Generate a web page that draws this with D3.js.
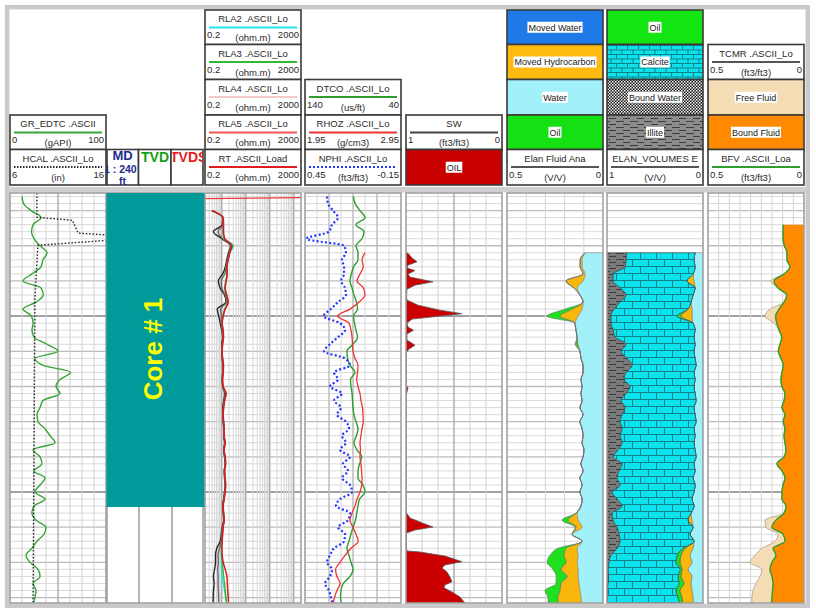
<!DOCTYPE html>
<html lang="en">
<head>
<meta charset="utf-8">
<title>Well log</title>
<script src="https://cdn.jsdelivr.net/npm/d3@7/dist/d3.min.js"></script>
<style>
  body { margin: 0; background: #fff; }
  svg text { font-family: "Liberation Sans", Arial, sans-serif; }
</style>
</head>
<body>
<svg id="log" width="816" height="614"></svg>
<script>
// ---- data (depth in ft) ----
var depth = [2432, 2436, 2440, 2444, 2448, 2452, 2456, 2460, 2464, 2468, 2472, 2476, 2480, 2484, 2488, 2492,
  2496, 2500, 2504, 2508, 2512, 2516, 2520, 2524, 2528, 2532, 2536, 2540, 2544, 2548, 2552, 2556, 2560,
  2564, 2568, 2572, 2576, 2580, 2584, 2588, 2592, 2596, 2600, 2604, 2608, 2612, 2616, 2620, 2624, 2628,
  2632, 2636, 2640, 2644, 2648, 2652, 2656, 2660, 2664];

var gr = [12.5, 14.1, 21.9, 32.3, 24.0, 22.4, 25.0, 31.3, 38.5, 34.4, 32.3, 22.9, 13.5, 32.3, 34.7, 27.1,
  13.5, 22.4, 24.0, 22.9, 25.0, 38.5, 50.0, 26.0, 34.4, 63.0, 52.1, 47.9, 52.1, 34.4, 31.3, 28.1, 29.2,
  36.5, 41.7, 46.9, 24.0, 31.3, 33.3, 25.0, 36.5, 31.3, 26.0, 36.5, 25.0, 22.9, 27.1, 37.5, 35.4, 28.1,
  22.9, 16.7, 20.8, 29.2, 31.3, 24.0, 27.1, 26.0, 24.0];

var hcalDepth = [2430, 2443.8, 2445.5, 2452.8, 2454.0, 2456.8, 2459.7, 2490, 2576, 2663.1];
var hcal = [8.8, 8.8, 12.5, 13.1, 16.5, 16.5, 8.9, 8.6, 8.5, 8.4];

var rtTopDepth = [2433.2, 2432.6];
var rtTop = [0.2, 2000];

var rla2 = [null, null, 0.39, 1.12, 1.15, 1.1, 1.35, 3.0, 2.2, 1.8, 1.6, 1.6, 1.45, 1.3, 1.55, 1.75, 1.3, 1.1,
  1.0, 1.1, 1.15, 1.05, 1.0, 1.05, 1.15, 1.1, 1.05, 1.1, 1.45, 1.28, 1.15, 1.1, 1.15, 1.2, 1.22, 1.33, 1.22,
  1.33, 1.4, 1.28, 1.33, 1.4, 1.33, 1.2, 1.1, 1.15, 1.2, 1.1, 1.04, 0.98, 0.95, 0.95, 0.98, 1.0, 1.01, 1.15,
  1.3, 1.45, 1.6];
var rla3 = [null, null, 0.39, 1.14, 1.17, 1.15, 1.3, 2.8, 2.1, 1.8, 1.62, 1.65, 1.5, 1.35, 1.58, 1.8, 1.35,
  1.12, 1.02, 1.12, 1.16, 1.07, 1.02, 1.07, 1.16, 1.12, 1.07, 1.12, 1.5, 1.3, 1.18, 1.12, 1.18, 1.24, 1.24,
  1.36, 1.24, 1.36, 1.43, 1.3, 1.36, 1.43, 1.36, 1.24, 1.12, 1.18, 1.24, 1.12, 1.06, 1.0, 0.98, 1.0, 1.05,
  1.12, 1.2, 1.3, 1.4, 1.5, 1.6];
var rla4 = [null, null, 0.39, 1.09, 1.04, 0.45, 1.0, 2.3, 1.9, 1.6, 1.4, 1.1, 0.72, 0.85, 1.3, 1.5, 0.65,
  0.75, 0.86, 1.0, 1.1, 1.0, 1.0, 1.04, 1.1, 1.09, 1.04, 1.09, 1.3, 1.2, 1.1, 1.09, 1.15, 1.2, 1.2, 1.3, 1.2,
  1.3, 1.39, 1.26, 1.3, 1.39, 1.3, 1.2, 1.1, 1.15, 1.2, 1.04, 0.95, 0.86, 0.62, 0.55, 0.55, 0.5, 0.45, 0.48,
  0.45, 0.44, 0.43];
var rla5 = [null, null, 0.39, 1.1, 1.1, 0.7, 1.1, 2.4, 2.0, 1.7, 1.5, 1.35, 0.95, 1.0, 1.4, 1.6, 0.9, 0.95,
  0.95, 1.05, 1.12, 1.03, 1.0, 1.05, 1.12, 1.1, 1.05, 1.1, 1.4, 1.25, 1.15, 1.1, 1.17, 1.22, 1.22, 1.33, 1.22,
  1.33, 1.42, 1.28, 1.33, 1.42, 1.33, 1.22, 1.12, 1.17, 1.22, 1.08, 1.0, 0.95, 0.8, 0.7, 0.72, 0.68, 0.7,
  0.7, 0.72, 0.74, 0.75];
var rt = [null, null, 0.39, 1.15, 1.18, 1.18, 1.32, 2.61, 2.15, 1.86, 1.64, 1.69, 1.53, 1.39, 1.61, 1.86,
  1.39, 1.15, 1.04, 1.15, 1.18, 1.09, 1.04, 1.09, 1.18, 1.15, 1.09, 1.15, 1.53, 1.32, 1.20, 1.15, 1.20, 1.26,
  1.26, 1.39, 1.26, 1.39, 1.46, 1.32, 1.39, 1.46, 1.39, 1.26, 1.15, 1.20, 1.26, 1.15, 1.09, 1.04, 1.01,
  1.04, 1.15, 1.39, 1.64, 1.69, 1.77, 1.86, 1.91];

var dtco = [89.5, 87.9, 82.7, 77.5, 86.9, 78.5, 80.6, 86.9, 84.8, 84.8, 89.5, 91.6, 93.1, 91.0, 89.0, 86.4,
  85.3, 89.5, 88.4, 86.9, 85.3, 90.0, 96.3, 95.7, 93.1, 87.9, 92.6, 92.1, 91.0, 90.5, 90.0, 89.0, 86.9, 84.8,
  86.4, 89.0, 85.8, 80.9, 83.2, 84.8, 84.8, 79.6, 77.5, 83.2, 84.8, 86.1, 87.4, 90.0, 92.1, 94.2, 96.3, 94.2,
  92.1, 90.0, 93.1, 100.1, 102.5, 103.0, 101.5];
var rhoz = [null, null, null, null, null, null, null, null, 2.575, 2.544, 2.557, 2.523, 2.492, 2.559, 2.575,
  2.513, 2.419, 2.289, 2.408, 2.429, 2.440, 2.445, 2.450, 2.471, 2.502, 2.497, 2.489, 2.502, 2.523, 2.533,
  2.549, 2.554, 2.557, 2.544, 2.533, 2.523, 2.528, 2.523, 2.533, 2.539, 2.544, 2.541, 2.523, 2.492, 2.471,
  2.440, 2.419, 2.450, 2.481, 2.505, 2.429, 2.367, 2.315, 2.268, 2.283, 2.315, 2.283, 2.257, 2.242];
var nphi = [0.3125, 0.306, 0.275, 0.244, 0.281, 0.300, 0.44, 0.206, 0.194, 0.219, 0.206, 0.206, 0.225, 0.200,
  0.194, 0.244, 0.288, 0.334, 0.231, 0.200, 0.244, 0.294, 0.331, 0.200, 0.169, 0.269, 0.244, 0.294, 0.219,
  0.269, 0.225, 0.250, 0.194, 0.175, 0.219, 0.194, 0.231, 0.169, 0.213, 0.181, 0.219, 0.169, 0.156, 0.231,
  0.256, 0.169, 0.181, 0.244, 0.200, 0.206, 0.269, 0.294, 0.3125, 0.281, 0.294, 0.325, 0.300, 0.288, 0.275];

var swDepth = [2463.5, 2464.8, 2467.0, 2469.1, 2471.0, 2472.7, 2474.1, 2476.1, 2477.8, 2480.5, 2482.4, 2484.7,
  2488.6, 2490.9, 2493.75, 2496.6, 2498.6, 2500.0, 2501.7, 2504.0, 2506.25, 2508.0, 2510.2, 2513.6, 2516.5,
  2518.75, 2520.5, 2539.2, 2540.9, 2543.2, 2544.9, 2611.4, 2614.8, 2618.2, 2619.9, 2621.6, 2623.3, 2631.8,
  2633.5, 2634.1, 2636.4, 2639.6, 2641.5, 2643.2, 2645.5, 2648.3, 2651.0, 2652.8, 2654.5, 2656.8, 2659.7,
  2663.1];
var sw = [1.0, 0.969, 0.9375, 0.885, 0.979, 0.990, 0.906, 0.979, 0.958, 0.719, 0.906, 0.990, 0.995, 0.990,
  0.875, 0.646, 0.417, 0.646, 0.9375, 0.990, 0.979, 0.922, 0.990, 0.990, 0.906, 0.969, 0.995, 1.0, 0.979,
  0.990, 1.0, 1.0, 0.958, 0.802, 0.719, 0.906, 0.995, 0.995, 0.990, 0.854, 0.594, 0.417, 0.594, 0.625, 0.573,
  0.542, 0.521, 0.594, 0.604, 0.521, 0.4375, 0.385];

// Elan fluid analysis (V/V)
var fluidWater = [null, null, null, null, null, null, null, null, 0.094, 0.109, 0.109, 0.094, 0.104, 0.135,
  0.120, 0.104, 0.109, 0.130, 0.146, 0.141, 0.135, 0.130, 0.120, 0.115, 0.104, 0.104, 0.115, 0.109, 0.115,
  0.109, 0.120, 0.104, 0.120, 0.109, 0.104, 0.109, 0.099, 0.104, 0.115, 0.104, 0.120, 0.109, 0.120, 0.109,
  0.115, 0.135, 0.130, 0.109, 0.161, 0.109, 0.135, 0.130, 0.135, 0.130, 0.130, 0.125, 0.120, 0.115, 0.109];
var fluidMovedHc = [null, null, null, null, null, null, null, null, 0, 0.010, 0.010, 0.010, 0.089, 0.016, 0, 0,
  0.052, 0.094, 0, 0, 0, 0.005, 0, 0, 0, 0, 0, 0, 0, 0, 0, 0, 0, 0, 0, 0, 0, 0, 0, 0, 0, 0, 0, 0, 0, 0.005,
  0.052, 0.031, 0, 0, 0.057, 0.073, 0.057, 0.089, 0.057, 0.094, 0.104, 0.120, 0.125];
var fluidOil = [null, null, null, null, null, null, null, null, 0, 0, 0, 0, 0, 0, 0, 0, 0.036, 0.068, 0, 0, 0,
  0.010, 0, 0, 0, 0, 0, 0, 0, 0, 0, 0, 0, 0, 0, 0, 0, 0, 0, 0, 0, 0, 0, 0, 0, 0, 0.031, 0.005, 0, 0, 0.042,
  0.073, 0.099, 0.042, 0.057, 0.026, 0.078, 0.052, 0.052];

// Elan volumes (V/V)
var volIllite = [null, null, null, null, null, null, null, null, 0.205, 0.198, 0.1875, 0.0625, 0.0625, 0.135,
  0.198, 0.135, 0.073, 0.042, 0.042, 0.0625, 0.083, 0.198, 0.146, 0.208, 0.260, 0.198, 0.177, 0.240, 0.198,
  0.146, 0.1875, 0.156, 0.135, 0.156, 0.135, 0.156, 0.115, 0.0625, 0.156, 0.125, 0.104, 0.135, 0.052, 0.104,
  0.156, 0.052, 0.0625, 0.104, 0.125, 0.135, 0.104, 0.042, 0.021, 0.010, 0.016, 0.010, 0.005, 0.005, 0.005];
var volCalcite = [null, null, null, null, null, null, null, null, 0.711, 0.708, 0.729, 0.833, 0.771, 0.781,
  0.698, 0.740, 0.771, 0.688, 0.854, 0.854, 0.823, 0.719, 0.760, 0.708, 0.667, 0.708, 0.740, 0.667, 0.719,
  0.781, 0.719, 0.760, 0.792, 0.750, 0.781, 0.750, 0.802, 0.865, 0.750, 0.792, 0.792, 0.781, 0.854, 0.781,
  0.750, 0.823, 0.781, 0.792, 0.740, 0.771, 0.688, 0.688, 0.698, 0.750, 0.724, 0.740, 0.714, 0.734, 0.755];
var volOil = [null, null, null, null, null, null, null, null, 0, 0, 0, 0, 0, 0, 0, 0, 0, 0.042, 0, 0, 0, 0, 0,
  0, 0, 0, 0, 0, 0, 0, 0, 0, 0, 0, 0, 0, 0, 0, 0, 0, 0, 0, 0, 0, 0, 0, 0, 0, 0, 0, 0.021, 0.042, 0.042, 0.021,
  0.031, 0.052, 0.042, 0.042, 0.031];
var volMovedHc = [null, null, null, null, null, null, null, null, 0, 0, 0, 0, 0.073, 0, 0, 0, 0.042, 0.115, 0,
  0, 0, 0, 0, 0, 0, 0, 0, 0, 0, 0, 0, 0, 0, 0, 0, 0, 0, 0, 0, 0, 0, 0, 0, 0, 0, 0, 0.042, 0, 0, 0, 0.083,
  0.094, 0.125, 0.0625, 0.115, 0.073, 0.125, 0.115, 0.104];
var volWater = [null, null, null, null, null, null, null, null, 0.083, 0.094, 0.083, 0.104, 0.094, 0.083,
  0.104, 0.125, 0.115, 0.115, 0.104, 0.083, 0.094, 0.083, 0.094, 0.083, 0.073, 0.094, 0.083, 0.094, 0.083,
  0.073, 0.094, 0.083, 0.073, 0.094, 0.083, 0.094, 0.083, 0.073, 0.094, 0.083, 0.104, 0.083, 0.094, 0.115,
  0.094, 0.125, 0.115, 0.104, 0.135, 0.094, 0.104, 0.135, 0.115, 0.156, 0.115, 0.125, 0.115, 0.104, 0.104];

// NMR (ft3/ft3)
var bfv = [null, null, null, null, 0.108, 0.109, 0.109, 0.102, 0.089, 0.089, 0.073, 0.104, 0.156, 0.135, 0.090,
  0.104, 0.130, 0.148, 0.142, 0.130, 0.116, 0.125, 0.134, 0.120, 0.108, 0.115, 0.120, 0.115, 0.099, 0.104,
  0.115, 0.099, 0.108, 0.099, 0.104, 0.099, 0.094, 0.104, 0.141, 0.115, 0.099, 0.109, 0.115, 0.115, 0.094,
  0.104, 0.146, 0.167, 0.109, 0.099, 0.161, 0.146, 0.167, 0.177, 0.167, 0.161, 0.164, 0.167, 0.168];
var tcmr = [null, null, null, null, 0.108, 0.109, 0.109, 0.102, 0.089, 0.089, 0.073, 0.104, 0.172, 0.135, 0.090,
  0.104, 0.177, 0.203, 0.156, 0.130, 0.116, 0.125, 0.134, 0.120, 0.108, 0.115, 0.120, 0.115, 0.099, 0.104,
  0.115, 0.099, 0.108, 0.099, 0.104, 0.099, 0.094, 0.104, 0.141, 0.115, 0.099, 0.109, 0.115, 0.115, 0.094,
  0.104, 0.203, 0.198, 0.135, 0.151, 0.219, 0.255, 0.281, 0.219, 0.229, 0.25, 0.266, 0.271, 0.272];

// header labels
var curveNames = ["GR_EDTC .ASCII", "HCAL .ASCII_Lo", "RLA2 .ASCII_Lo", "RLA3 .ASCII_Lo", "RLA4 .ASCII_Lo",
  "RLA5 .ASCII_Lo", "RT .ASCII_Load", "DTCO .ASCII_Lo", "RHOZ .ASCII_Lo", "NPHI .ASCII_Lo", "SW",
  "Elan Fluid Ana", "ELAN_VOLUMES E", "TCMR .ASCII_Lo", "BFV .ASCII_Loa"];
var curveUnits = ["(gAPI)", "(in)", "(ohm.m)", "(ohm.m)", "(ohm.m)", "(ohm.m)", "(ohm.m)", "(us/ft)", "(g/cm3)",
  "(ft3/ft3)", "(ft3/ft3)", "(V/V)", "(V/V)", "(ft3/ft3)", "(ft3/ft3)"];
var curveLeft = ["0", "6", "0.2", "0.2", "0.2", "0.2", "0.2", "140", "1.95", "0.45", "1", "0.5", "1", "0.5", "0.5"];
var curveRight = ["100", "16", "2000", "2000", "2000", "2000", "2000", "40", "2.95", "-0.15", "0", "0", "0", "0", "0"];
var fluidLabels = ["Moved Water", "Moved Hydrocarbon", "Water", "Oil"];
var volumeLabels = ["Oil", "Calcite", "Bound Water", "Illite"];
var nmrLabels = ["Free Fluid", "Bound Fluid"];
var swLabel = "OIL";
var coreLabel = "Core # 1";
var indexLabels = ["MD", "1 : 240", "ft", "TVD", "TVDSS"];

// ---- layout ----
var svg = d3.select("#log");
var defs = svg.append("defs");
var rowsY = [10, 44.5, 79.5, 115, 149.5, 185];
var dataTop = 193, dataBottom = 603;
var y = d3.scaleLinear().domain([2430, 2663.1]).range([dataTop, dataBottom]);

var trk = {
  gr: [10, 106], res: [205, 301], por: [305, 401], sw: [406, 502],
  fluid: [507, 603], vol: [607, 703], nmr: [708, 804]
};

var num = function(s) { return +s; };
var xGR = d3.scaleLinear().domain([curveLeft[0], curveRight[0]].map(num)).range(trk.gr);
var xHCAL = d3.scaleLinear().domain([curveLeft[1], curveRight[1]].map(num)).range(trk.gr);
var xRes = d3.scaleLog().domain([0.2, 2000]).range(trk.res);
var xDT = d3.scaleLinear().domain([curveLeft[7], curveRight[7]].map(num)).range(trk.por);
var xRHOZ = d3.scaleLinear().domain([curveLeft[8], curveRight[8]].map(num)).range(trk.por);
var xNPHI = d3.scaleLinear().domain([curveLeft[9], curveRight[9]].map(num)).range(trk.por);
var xSW = d3.scaleLinear().domain([1, 0]).range(trk.sw);
var xFluid = d3.scaleLinear().domain([0.5, 0]).range(trk.fluid);
var xVol = d3.scaleLinear().domain([1, 0]).range(trk.vol);
var xNMR = d3.scaleLinear().domain([0.5, 0]).range(trk.nmr);

// patterns
function brick(id, w, h, fill, stroke) {
  var p = defs.append("pattern").attr("id", id).attr("patternUnits", "userSpaceOnUse")
    .attr("width", w).attr("height", h);
  p.append("rect").attr("width", w).attr("height", h).attr("fill", fill);
  p.append("path")
    .attr("d", "M0,0.5H" + w + "M0," + (h / 2 + 0.5) + "H" + w + "M0.5,0V" + (h / 2) +
      "M" + (w / 2 + 0.5) + "," + (h / 2) + "V" + h)
    .attr("stroke", stroke).attr("stroke-width", 1).attr("fill", "none");
}
brick("calcite", 16, 14, "#0ce3ec", "#137f86");
brick("calciteSmall", 11, 9, "#0ce3ec", "#137f86");

function illitePattern(id, fill) {
  var p = defs.append("pattern").attr("id", id).attr("patternUnits", "userSpaceOnUse")
    .attr("width", 14).attr("height", 6);
  p.append("rect").attr("width", 14).attr("height", 6).attr("fill", fill);
  p.append("path").attr("d", "M0,1.5H8M7,4.5H14").attr("stroke", "#3d3d3d").attr("stroke-width", 1);
}
illitePattern("illite", "#7a7a7a");
illitePattern("illiteLegend", "#8c8c8c");

var bw = defs.append("pattern").attr("id", "boundWater").attr("patternUnits", "userSpaceOnUse")
  .attr("width", 3).attr("height", 3);
bw.append("rect").attr("width", 3).attr("height", 3).attr("fill", "#1a1a1a");
bw.append("rect").attr("width", 1.5).attr("height", 1.5).attr("fill", "#fff");
bw.append("rect").attr("x", 1.5).attr("y", 1.5).attr("width", 1.5).attr("height", 1.5).attr("fill", "#ddd");

Object.keys(trk).forEach(function(k) {
  defs.append("clipPath").attr("id", "clip-" + k).append("rect")
    .attr("x", trk[k][0]).attr("y", dataTop).attr("width", trk[k][1] - trk[k][0])
    .attr("height", dataBottom - dataTop);
});
defs.append("clipPath").attr("id", "clip-md").append("rect").attr("x", 107).attr("y", 149.5).attr("width", 31.5).attr("height", 37);
defs.append("clipPath").attr("id", "clip-tvdss").append("rect").attr("x", 172.5).attr("y", 149.5).attr("width", 30.5).attr("height", 35.5);

// frame
svg.append("rect").attr("x", 7.2).attr("y", 7.2).attr("width", 800.6).attr("height", 598.6)
  .attr("fill", "none").attr("stroke", "#cacaca").attr("stroke-width", 4.5);
svg.append("rect").attr("x", 9).attr("y", 187).attr("width", 797).attr("height", 5.5).attr("fill", "#d0d0d0");

// ---- grids ----
var gridDepths = d3.range(2432, 2664, 4).sort(function(a, b) { return rank(a) - rank(b); });
function rank(d) { return d % 100 === 0 ? 2 : d % 20 === 0 ? 1 : 0; }

function gridH(g, t) {
  g.selectAll("line.h").data(gridDepths).join("line").attr("class", "h")
    .attr("x1", t[0]).attr("x2", t[1])
    .attr("y1", function(d) { return y(d); }).attr("y2", function(d) { return y(d); })
    .attr("stroke", function(d) { return ["#dadada", "#bcbcbc", "#a2a2a2"][rank(d)]; })
    .attr("stroke-width", function(d) { return [1, 1.3, 2][rank(d)]; });
}
function gridV(g, t, n, major, minorColor, majorColor) {
  var w = (t[1] - t[0]) / n;
  var xs = d3.range(1, n);
  g.selectAll("line.v").data(xs).join("line").attr("class", "v")
    .attr("x1", function(i) { return t[0] + i * w; }).attr("x2", function(i) { return t[0] + i * w; })
    .attr("y1", dataTop).attr("y2", dataBottom)
    .attr("stroke", function(i) { return major.indexOf(i) >= 0 ? majorColor : minorColor; })
    .attr("stroke-width", function(i) { return major.indexOf(i) >= 0 ? 1.4 : 1; });
}
function trackGroup(key) {
  var g = svg.append("g").attr("clip-path", "url(#clip-" + key + ")");
  svg.append("rect").attr("x", trk[key][0]).attr("y", dataTop).attr("width", trk[key][1] - trk[key][0])
    .attr("height", dataBottom - dataTop).attr("fill", "#fff");
  return g.raise();
}
function border(key) {
  svg.append("rect").attr("x", trk[key][0]).attr("y", dataTop).attr("width", trk[key][1] - trk[key][0])
    .attr("height", dataBottom - dataTop).attr("fill", "none").attr("stroke", "#9c9c9c").attr("stroke-width", 1.5);
}

function curve(g, xs, dep, vals, color, w, dash, type) {
  var pts = dep.map(function(d, i) { return [d, vals[i]]; });
  var gen = d3.line().defined(function(p) { return p[1] !== null; })
    .x(function(p) { return xs(p[1]); }).y(function(p) { return y(p[0]); })
    .curve(type || d3.curveMonotoneY);
  g.append("path").attr("d", gen(pts)).attr("fill", "none").attr("stroke", color)
    .attr("stroke-width", w).attr("stroke-dasharray", dash || null).attr("stroke-linejoin", "round");
}
function stackRows(keys, arrays) {
  var rows = [];
  depth.forEach(function(d, i) {
    if (arrays[0][i] === null) return;
    var r = { depth: d };
    keys.forEach(function(k, j) { r[k] = arrays[j][i]; });
    rows.push(r);
  });
  return d3.stack().keys(keys)(rows);
}
function stackArea(g, xs, layer, fill, stroke) {
  var gen = d3.area().y(function(d) { return y(d.data.depth); })
    .x0(function(d) { return xs(d[0]); }).x1(function(d) { return xs(d[1]); })
    .curve(d3.curveMonotoneY);
  g.append("path").attr("d", gen(layer)).attr("fill", fill)
    .attr("stroke", stroke || "none").attr("stroke-width", 0.6);
}

// Track 1: GR / HCAL
var g1 = trackGroup("gr");
gridH(g1, trk.gr);
gridV(g1, trk.gr, 8, [4], "#d2d2d2", "#a9a9a9");
curve(g1, xGR, depth, gr, "#34a634", 1.4);
curve(g1, xHCAL, hcalDepth, hcal, "#2a2a2a", 1.4, "1.6,1.8", d3.curveLinear);
border("gr");

// depth columns + core
svg.append("rect").attr("x", 107).attr("y", dataTop).attr("width", 96).attr("height", dataBottom - dataTop)
  .attr("fill", "#fff").attr("stroke", "#9c9c9c").attr("stroke-width", 1.5);
[139, 172].forEach(function(x) {
  svg.append("line").attr("x1", x).attr("x2", x).attr("y1", dataTop).attr("y2", dataBottom)
    .attr("stroke", "#9c9c9c").attr("stroke-width", 1.5);
});
svg.append("rect").attr("x", 106.5).attr("y", dataTop).attr("width", 99).attr("height", 314)
  .attr("fill", "#009a9a");
svg.append("text").attr("transform", "translate(153,349) rotate(-90)")
  .attr("text-anchor", "middle").attr("dominant-baseline", "central")
  .attr("font-size", 26).attr("font-weight", "bold").attr("fill", "#ffff00").text(coreLabel);

// Resistivity (log)
var g2 = trackGroup("res");
gridH(g2, trk.res);
var logLines = [];
[0.1, 1, 10, 100, 1000].forEach(function(dec) {
  d3.range(1, 10).forEach(function(m) {
    var v = m * dec;
    if (v > 0.2 && v < 2000) logLines.push(v);
  });
});
g2.selectAll("line.v").data(logLines).join("line")
  .attr("x1", function(v) { return xRes(v); }).attr("x2", function(v) { return xRes(v); })
  .attr("y1", dataTop).attr("y2", dataBottom)
  .attr("stroke", function(v) { return [1, 10, 100, 1000].indexOf(v) >= 0 ? "#b2b2b2" : "#d6d6d6"; })
  .attr("stroke-width", function(v) { return [1, 10, 100, 1000].indexOf(v) >= 0 ? 1.5 : 1; });
curve(g2, xRes, depth, rla2, "#1fe0e8", 1.4);
curve(g2, xRes, depth, rla3, "#33b833", 1.4);
curve(g2, xRes, depth, rla4, "#262626", 1.4);
curve(g2, xRes, depth, rla5, "#6a6a6a", 1.4);
curve(g2, xRes, depth, rt, "#e5161b", 1.5);
curve(g2, xRes, rtTopDepth, rtTop, "#f03a3a", 1.3, null, d3.curveLinear);
border("res");

// Porosity track
var g3 = trackGroup("por");
gridH(g3, trk.por);
gridV(g3, trk.por, 8, [2, 4, 6], "#d8d8d8", "#b9b9b9");
curve(g3, xDT, depth, dtco, "#2f9c2f", 1.4);
curve(g3, xRHOZ, depth, rhoz, "#ee3434", 1.3);
curve(g3, xNPHI, depth, nphi, "#2437ff", 2.2, "2,2.2");
border("por");

// SW
var g4 = trackGroup("sw");
gridH(g4, trk.sw);
gridV(g4, trk.sw, 6, [3], "#d2d2d2", "#a9a9a9");
var swPts = swDepth.map(function(d, i) { return [d, sw[i]]; });
g4.append("path").attr("d", d3.area().y(function(p) { return y(p[0]); })
    .x0(xSW(1)).x1(function(p) { return xSW(p[1]); })(swPts))
  .attr("fill", "#cc0000").attr("stroke", "#5a5a5a").attr("stroke-width", 0.8);
border("sw");

// Elan fluid
var g5 = trackGroup("fluid");
gridH(g5, trk.fluid);
gridV(g5, trk.fluid, 5, [], "#d6d6d6", "#d6d6d6");
var fl = stackRows(["water", "mhc", "oil"], [fluidWater, fluidMovedHc, fluidOil]);
stackArea(g5, xFluid, fl[0], "#a2f1fa", "#8a8a8a");
stackArea(g5, xFluid, fl[1], "#f9b70c", "#8a8a8a");
stackArea(g5, xFluid, fl[2], "#1fe01f", "#6a6a6a");
border("fluid");

// Elan volumes
var g6 = trackGroup("vol");
gridH(g6, trk.vol);
var vl = stackRows(["water", "mhc", "oil", "calcite", "illite"],
  [volWater, volMovedHc, volOil, volCalcite, volIllite]);
stackArea(g6, xVol, vl[0], "#a2f1fa", "#8a8a8a");
stackArea(g6, xVol, vl[1], "#f9b70c", "#777");
stackArea(g6, xVol, vl[2], "#1fe01f", "#555");
stackArea(g6, xVol, vl[3], "url(#calcite)", "#3c3c3c");
stackArea(g6, xVol, vl[4], "url(#illite)", "#3c3c3c");
border("vol");

// NMR
var g7 = trackGroup("nmr");
gridH(g7, trk.nmr);
gridV(g7, trk.nmr, 9, [], "#d6d6d6", "#d6d6d6");
var nm = stackRows(["bound", "free"], [bfv, tcmr.map(function(v, i) { return v === null ? null : v - bfv[i]; })]);
stackArea(g7, xNMR, nm[1], "#f4dcb4", "#9a8a70");
stackArea(g7, xNMR, nm[0], "#ff8a00", null);
curve(g7, xNMR, depth, bfv, "#2e9e2e", 1.4);
border("nmr");

// ---- header ----
var hdr = svg.append("g");
function box(x0, x1, r0, r1, fill) {
  return hdr.append("rect").attr("x", x0).attr("y", rowsY[r0]).attr("width", x1 - x0)
    .attr("height", rowsY[r1] - rowsY[r0]).attr("fill", fill || "#fff")
    .attr("stroke", "#3a3a3a").attr("stroke-width", 1.6);
}
function htext(x, yy, s, anchor, size) {
  return hdr.append("text").attr("x", x).attr("y", yy).attr("text-anchor", anchor || "middle")
    .attr("font-size", size || 9.5).attr("fill", "#2a2a2a").text(s);
}
function curveHead(t, row, i, color, dash) {
  var top = rowsY[row];
  box(t[0], t[1], row, row + 1);
  htext((t[0] + t[1]) / 2, top + 12, curveNames[i]);
  hdr.append("line").attr("x1", t[0] + 4).attr("x2", t[1] - 4).attr("y1", top + 17.5).attr("y2", top + 17.5)
    .attr("stroke", color).attr("stroke-width", 2).attr("stroke-dasharray", dash || null);
  htext(t[0] + 2, top + 28, curveLeft[i], "start");
  htext((t[0] + t[1]) / 2, top + 31, curveUnits[i]);
  htext(t[1] - 2, top + 28, curveRight[i], "end");
}
function fillHead(t, row, label, fill) {
  var top = rowsY[row], h = rowsY[row + 1] - top;
  box(t[0], t[1], row, row + 1, fill);
  var bg = hdr.append("rect").attr("fill", "#fff");
  var tx = htext((t[0] + t[1]) / 2, top + h / 2 + 3.3, label, "middle", 9).attr("fill", "#1a1a1a");
  var w = tx.node().getComputedTextLength();
  bg.attr("x", (t[0] + t[1]) / 2 - w / 2 - 1).attr("y", top + h / 2 - 5.5).attr("width", w + 2).attr("height", 11);
}

curveHead(trk.gr, 3, 0, "#34a634");
curveHead(trk.gr, 4, 1, "#2a2a2a", "1.5,1.5");
curveHead(trk.res, 0, 2, "#22e3ec");
curveHead(trk.res, 1, 3, "#33b833");
curveHead(trk.res, 2, 4, "#f6caca");
curveHead(trk.res, 3, 5, "#f25757");
curveHead(trk.res, 4, 6, "#dc1e1e");
curveHead(trk.por, 2, 7, "#2f9c2f");
curveHead(trk.por, 3, 8, "#ee3434");
curveHead(trk.por, 4, 9, "#2437ff", "2,2");
curveHead(trk.sw, 3, 10, "#444");
fillHead(trk.sw, 4, swLabel, "#c80000");

var fluidFills = ["#1f79e6", "#fdbb12", "#a2f1fa", "#14e014"];
fluidLabels.forEach(function(l, i) { fillHead(trk.fluid, i, l, fluidFills[i]); });
curveHead(trk.fluid, 4, 11, "#555");

var volFills = ["#14e614", "url(#calciteSmall)", "url(#boundWater)", "url(#illiteLegend)"];
volumeLabels.forEach(function(l, i) { fillHead(trk.vol, i, l, volFills[i]); });
curveHead(trk.vol, 4, 12, "#555");

curveHead(trk.nmr, 1, 13, "#555");
fillHead(trk.nmr, 2, nmrLabels[0], "#f4dcb4");
fillHead(trk.nmr, 3, nmrLabels[1], "#ff8a00");
curveHead(trk.nmr, 4, 14, "#2e9e2e");

// depth index boxes
box(107, 138.5, 4, 5);
box(138.5, 171, 4, 5);
box(171, 203, 4, 5);
hdr.append("text").attr("x", 122.5).attr("y", 159.5).attr("text-anchor", "middle").attr("font-size", 13)
  .attr("font-weight", "bold").attr("fill", "#1d2b8c").text(indexLabels[0]);
hdr.append("text").attr("x", 104).attr("y", 172.5).attr("font-size", 10.5).attr("font-weight", "bold")
  .attr("fill", "#1d2b8c").attr("clip-path", "url(#clip-md)").text(indexLabels[1]);
hdr.append("text").attr("x", 122.5).attr("y", 184.8).attr("text-anchor", "middle").attr("font-size", 10.5)
  .attr("font-weight", "bold").attr("fill", "#1d2b8c").text(indexLabels[2]);
hdr.append("text").attr("x", 155).attr("y", 162).attr("text-anchor", "middle").attr("font-size", 14)
  .attr("font-weight", "bold").attr("fill", "#15a015").text(indexLabels[3]);
hdr.append("text").attr("x", 170).attr("y", 162).attr("font-size", 14).attr("font-weight", "bold")
  .attr("fill", "#e81c1c").attr("clip-path", "url(#clip-tvdss)").text(indexLabels[4]);
</script>
</body>
</html>
